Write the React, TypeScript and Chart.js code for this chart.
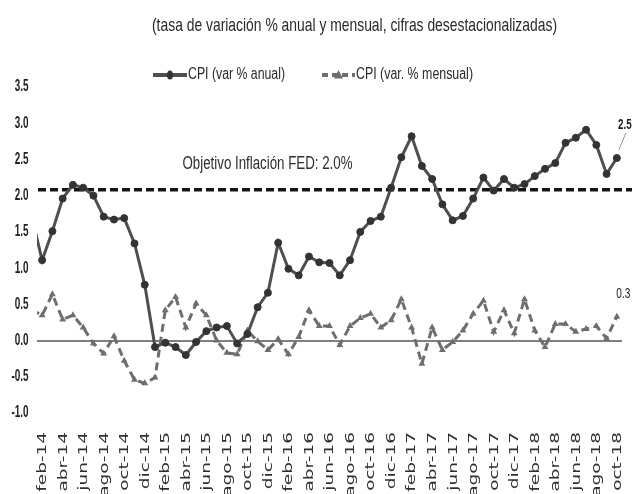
import React, { useEffect, useRef } from 'react';
import { Chart, registerables } from 'chart.js';

Chart.register(...registerables);

const months = [
  'ene-14', 'feb-14', 'mar-14', 'abr-14', 'may-14', 'jun-14', 'jul-14', 'ago-14', 'sep-14', 'oct-14', 'nov-14', 'dic-14',
  'ene-15', 'feb-15', 'mar-15', 'abr-15', 'may-15', 'jun-15', 'jul-15', 'ago-15', 'sep-15', 'oct-15', 'nov-15', 'dic-15',
  'ene-16', 'feb-16', 'mar-16', 'abr-16', 'may-16', 'jun-16', 'jul-16', 'ago-16', 'sep-16', 'oct-16', 'nov-16', 'dic-16',
  'ene-17', 'feb-17', 'mar-17', 'abr-17', 'may-17', 'jun-17', 'jul-17', 'ago-17', 'sep-17', 'oct-17', 'nov-17', 'dic-17',
  'ene-18', 'feb-18', 'mar-18', 'abr-18', 'may-18', 'jun-18', 'jul-18', 'ago-18', 'sep-18', 'oct-18',
];

const cpiAnual = [
  1.70,
  1.11, 1.51, 1.96, 2.15, 2.11, 2.00, 1.71, 1.67, 1.69, 1.34, 0.77,
  -0.09, -0.03, -0.09, -0.20, -0.02, 0.13, 0.18, 0.20, -0.04, 0.09, 0.46, 0.66,
  1.35, 0.99, 0.90, 1.16, 1.08, 1.07, 0.90, 1.11, 1.50, 1.65, 1.71, 2.11,
  2.53, 2.82, 2.41, 2.23, 1.88, 1.66, 1.72, 1.96, 2.25, 2.07, 2.23, 2.11,
  2.16, 2.27, 2.37, 2.45, 2.73, 2.80, 2.91, 2.70, 2.30, 2.52,
];

const cpiMensual = [
  0.42,
  0.35, 0.64, 0.29, 0.35, 0.18, -0.04, -0.18, 0.06, -0.28, -0.54, -0.59,
  -0.51, 0.42, 0.60, 0.18, 0.51, 0.35, 0.00, -0.17, -0.19, 0.14, -0.01, -0.13,
  0.02, -0.19, 0.05, 0.42, 0.20, 0.20, -0.06, 0.20, 0.31, 0.37, 0.18, 0.28,
  0.57, 0.18, -0.32, 0.18, -0.13, -0.02, 0.14, 0.37, 0.55, 0.12, 0.42, 0.10,
  0.57, 0.14, -0.09, 0.23, 0.23, 0.12, 0.16, 0.20, 0.03, 0.33,
];

const firstShown = 'feb-14';
const fedLineLevel = 2.08;
const fedText = 'Objetivo Inflación FED: 2.0%';
const titleText = '(tasa de variación % anual y mensual, cifras desestacionalizadas)';
const legendAnual = 'CPI (var % anual)';
const legendMensual = 'CPI (var. % mensual)';
const yMin = -1;
const yMax = 3.5;
const yStep = 0.5;

const ANUAL_LINE = '#4f4f4f';
const ANUAL_POINT = '#333333';
const MENSUAL = '#6e6e6e';
const SANS = '"Liberation Sans", Arial, sans-serif';

function drawText(
  ctx: CanvasRenderingContext2D,
  text: string,
  x: number,
  y: number,
  font: string,
  color: string,
  align: CanvasTextAlign,
  opts: { width?: number; sx?: number } = {}
) {
  ctx.save();
  ctx.font = font;
  const w = ctx.measureText(text).width;
  const sx = opts.width ? opts.width / w : opts.sx ?? 1;
  ctx.translate(x, y);
  ctx.scale(sx, 1);
  ctx.fillStyle = color;
  ctx.textAlign = align;
  ctx.textBaseline = 'middle';
  ctx.fillText(text, 0, 0);
  ctx.restore();
}

const decorPlugin = {
  id: 'decor',
  beforeDatasetsDraw(chart: any) {
    const { ctx, chartArea, scales } = chart;
    const y = scales.y.getPixelForValue(fedLineLevel);
    ctx.save();
    ctx.strokeStyle = '#151515';
    ctx.lineWidth = 3.5;
    ctx.setLineDash([8, 4]);
    ctx.beginPath();
    ctx.moveTo(chartArea.left + 1, y);
    ctx.lineTo(chart.width, y);
    ctx.stroke();
    ctx.restore();
  },
  afterDraw(chart: any) {
    const { ctx, chartArea, scales } = chart;
    const xs = scales.x;
    const ys = scales.y;

    // title
    drawText(ctx, titleText, 354.5, 26, `19px ${SANS}`, '#2a2a2a', 'center', { width: 405 });

    // legend
    const ly = 75;
    ctx.save();
    ctx.strokeStyle = ANUAL_LINE;
    ctx.lineWidth = 4;
    ctx.beginPath();
    ctx.moveTo(153, ly);
    ctx.lineTo(187, ly);
    ctx.stroke();
    ctx.fillStyle = ANUAL_POINT;
    ctx.beginPath();
    ctx.ellipse(170, ly, 3, 4.5, 0, 0, Math.PI * 2);
    ctx.fill();
    ctx.strokeStyle = MENSUAL;
    ctx.setLineDash([6, 4]);
    ctx.beginPath();
    ctx.moveTo(322, ly);
    ctx.lineTo(355, ly);
    ctx.stroke();
    ctx.setLineDash([]);
    ctx.fillStyle = MENSUAL;
    ctx.beginPath();
    ctx.moveTo(338.5, ly - 5);
    ctx.lineTo(343, ly + 3.5);
    ctx.lineTo(334, ly + 3.5);
    ctx.closePath();
    ctx.fill();
    ctx.restore();
    drawText(ctx, legendAnual, 188, ly, `16px ${SANS}`, '#2a2a2a', 'left', { width: 97 });
    drawText(ctx, legendMensual, 356, ly, `16px ${SANS}`, '#2a2a2a', 'left', { width: 117 });

    // annotation
    drawText(
      ctx,
      fedText,
      chartArea.left + (chartArea.right - chartArea.left) * 0.394,
      ys.getPixelForValue(2.43),
      `18px ${SANS}`,
      '#2e2e2e',
      'center',
      { width: 170 }
    );

    // y tick labels
    ys.ticks.forEach((t: any) => {
      const yy = ys.getPixelForValue(t.value);
      drawText(ctx, t.value.toFixed(1), 28.5, yy, `bold 16px ${SANS}`, '#222', 'right', { sx: 0.62 });
    });

    // x tick labels (every two months)
    for (let i = Math.ceil(xs.min); i <= xs.max; i++) {
      if (i % 2 !== 1) continue;
      const xx = xs.getPixelForValue(i);
      ctx.save();
      ctx.translate(xx + 0.5, 432);
      ctx.rotate(-Math.PI / 2);
      ctx.scale(1.42, 1);
      ctx.font = '13px "DejaVu Sans", sans-serif';
      ctx.fillStyle = '#2f2f2f';
      ctx.textAlign = 'right';
      ctx.textBaseline = 'middle';
      ctx.fillText(months[i], 0, 0);
      ctx.restore();
    }

    // last value labels
    const last = months.length - 1;
    const pA = chart.getDatasetMeta(0).data[last];
    const pM = chart.getDatasetMeta(1).data[last];
    if (pA) {
      ctx.save();
      ctx.strokeStyle = '#9a9a9a';
      ctx.lineWidth = 1;
      ctx.beginPath();
      ctx.moveTo(pA.x + 9, pA.y - 25);
      ctx.lineTo(pA.x + 2, pA.y - 8);
      ctx.stroke();
      ctx.restore();
      drawText(ctx, cpiAnual[last].toFixed(1), pA.x + 8, pA.y - 33, `bold 14px ${SANS}`, '#222', 'center', { sx: 0.7 });
    }
    if (pM) {
      drawText(ctx, cpiMensual[last].toFixed(1), pM.x + 6.5, pM.y - 23, `14px ${SANS}`, '#222', 'center', { sx: 0.72 });
    }
  },
};

export default function App() {
  const ref = useRef<HTMLCanvasElement | null>(null);

  useEffect(() => {
    document.body.style.margin = '0';
    const canvas = ref.current;
    if (!canvas) return;
    const chart = new Chart(canvas, {
      type: 'line',
      data: {
        labels: months,
        datasets: [
          {
            label: legendAnual,
            data: cpiAnual,
            borderColor: ANUAL_LINE,
            borderWidth: 3,
            pointStyle: 'circle',
            pointRadius: 3.5,
            pointBorderWidth: 1,
            pointBackgroundColor: ANUAL_POINT,
            pointBorderColor: ANUAL_POINT,
            tension: 0,
            clip: 0,
          },
          {
            label: legendMensual,
            data: cpiMensual,
            borderColor: MENSUAL,
            borderWidth: 3,
            borderDash: [8, 5],
            pointStyle: 'triangle',
            pointRadius: 4,
            pointBorderWidth: 0,
            pointBackgroundColor: MENSUAL,
            pointBorderColor: MENSUAL,
            tension: 0,
            clip: 0,
          },
        ],
      },
      options: {
        responsive: false,
        animation: false,
        devicePixelRatio: 1,
        layout: { padding: { top: 87, right: 10, left: 0, bottom: 0 } },
        plugins: {
          legend: { display: false },
          tooltip: { enabled: false },
          title: { display: false },
        },
        scales: {
          x: {
            type: 'category',
            min: firstShown,
            offset: true,
            grid: { display: false },
            border: { display: false },
            ticks: { display: false },
            afterFit: (s: any) => {
              s.height = 81;
            },
          },
          y: {
            min: yMin,
            max: yMax,
            ticks: { display: false, stepSize: yStep },
            grid: {
              drawTicks: false,
              color: (c: any) => (c.tick && Math.abs(c.tick.value) < 1e-9 ? '#7f7f7f' : 'rgba(0,0,0,0)'),
              lineWidth: 2,
            },
            border: { display: false },
            afterFit: (s: any) => {
              s.width = 37;
            },
          },
        },
      },
      plugins: [decorPlugin],
    } as any);
    return () => chart.destroy();
  }, []);

  return <canvas ref={ref} width={632} height={494} style={{ display: 'block' }} />;
}
